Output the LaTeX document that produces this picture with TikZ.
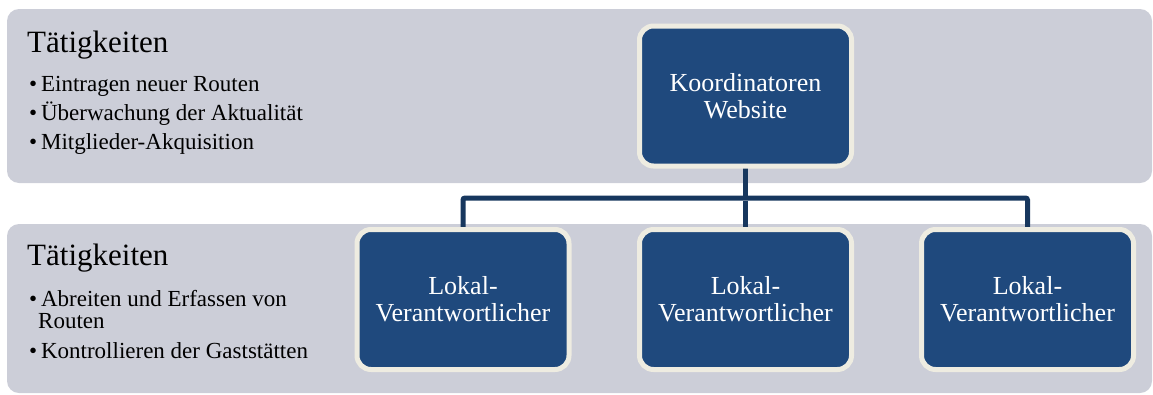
\documentclass[tikz,border=0pt]{standalone}
\usepackage{fontspec}
\setmainfont{Liberation Serif}
\definecolor{bandgray}{HTML}{CCCED8}
\definecolor{boxblue}{HTML}{1F497D}
\definecolor{boxrim}{HTML}{EEECE1}
\definecolor{linkblue}{HTML}{17375E}

\begin{document}
\begin{tikzpicture}[x=1pt,y=-1pt,
		band/.style={fill=bandgray, rounded corners=12pt},
		role/.style={draw=boxrim, line width=5pt, fill=boxblue, rounded corners=14pt,
			minimum width=212pt, minimum height=140pt, inner sep=0pt,
			text=white, align=center, font=\fontsize{26}{27}\selectfont},
		link/.style={draw=linkblue, line width=5pt, shorten <=2.5pt, shorten >=2.5pt},
		head/.style={anchor=base west, inner sep=0pt, font=\fontsize{31}{32}\selectfont},
		item/.style={anchor=base west, inner sep=0pt, font=\fontsize{23}{24}\selectfont}]

			\useasboundingbox (0,0) rectangle (1153,394);

			\fill [band] (7,9) rectangle (1152,183);
			\fill [band] (7,224) rectangle (1152,393);

			\node [head](t0) at (27,52) {Tätigkeiten};
			\node [item](a0) at (29,91) {\textbullet\,Eintragen neuer Routen};
			\node [item](a1) at (29,120) {\textbullet\,Überwachung der Aktualität};
			\node [item](a2) at (29,149) {\textbullet\,Mitglieder-Akquisition};

			\node [head](t1) at (27,265) {Tätigkeiten};
			\node [item](b0) at (29,306) {\textbullet\,Abreiten und Erfassen von};
			\node [item](b1) at (38,328) {Routen};
			\node [item](b2) at (29,358) {\textbullet\,Kontrollieren der Gaststätten};

			\coordinate (fork) at (745.5,198);

			\draw [link](745.5,96) -- (fork);
			\draw [link, rounded corners=2pt](463,299.5) |- (fork) -| (1027.5,299.5);
			\draw [link](fork) -- (745.5,299.5);

			\node [role](koord) at (745.5,96) {Koordinatoren\\Website};
			\node [role](lokal0) at (463,299.5) {Lokal-\\Verantwortlicher};
			\node [role](lokal1) at (745.5,299.5) {Lokal-\\Verantwortlicher};
			\node [role](lokal2) at (1027.5,299.5) {Lokal-\\Verantwortlicher};

		\end{tikzpicture}
\end{document}
